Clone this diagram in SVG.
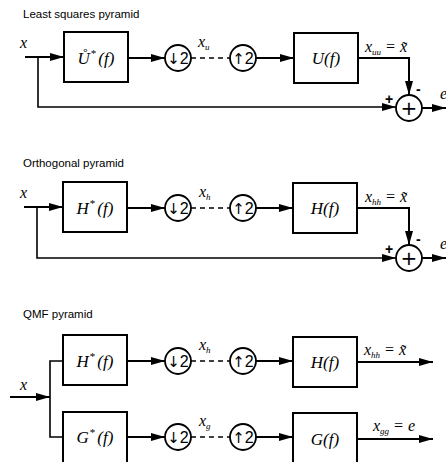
<svg xmlns="http://www.w3.org/2000/svg" width="446" height="462" viewBox="0 0 446 462">
<defs>
<marker id="ah" markerWidth="14" markerHeight="10" refX="14" refY="5" orient="auto" markerUnits="userSpaceOnUse">
<path d="M0,1 L14,5 L0,9 Z" fill="#000"/>
</marker>
<style>
.ln{stroke:#000;stroke-width:2;fill:none}
.th{stroke:#000;stroke-width:1.6;fill:none}
.dash{stroke:#000;stroke-width:1.6;fill:none;stroke-dasharray:5,4}
.box{stroke:#000;stroke-width:2;fill:#fff}
.cir{stroke:#000;stroke-width:1.8;fill:#fff}
.title{font-family:"Liberation Sans",Arial,sans-serif;font-size:11.5px;fill:#000}
.m{font-family:"Liberation Serif","Times New Roman",serif;font-style:italic;font-size:17px;fill:#000}
.ml{font-family:"Liberation Serif","Times New Roman",serif;font-style:italic;font-size:16px;fill:#000}
.sub{font-size:9px}
.sup{font-size:11px;font-style:normal}
.op{font-family:"DejaVu Sans",sans-serif;font-size:15px;fill:#000}
.two{font-family:"Liberation Sans",Arial,sans-serif;font-size:16px}
.pl{font-family:"DejaVu Sans",sans-serif;font-size:20px;fill:#000}
.sg{font-family:"Liberation Sans",Arial,sans-serif;font-size:14px;font-weight:bold;fill:#000}
</style>
</defs>

<text class="title" x="23" y="18">Least squares pyramid</text>
<text class="title" x="23" y="167">Orthogonal pyramid</text>
<text class="title" x="23" y="318">QMF pyramid</text>

<g id="connectors">
<line class="ln" x1="25" y1="57" x2="64" y2="57" marker-end="url(#ah)"/>
<polyline class="th" points="38,57 38,107 396,107" marker-end="url(#ah)"/>
<line class="ln" x1="128" y1="58" x2="165" y2="58" marker-end="url(#ah)"/>
<line class="dash" x1="191" y1="58" x2="230" y2="58"/>
<line class="ln" x1="256" y1="58" x2="294" y2="58" marker-end="url(#ah)"/>
<polyline class="ln" points="358,58 409,58 409,95" marker-end="url(#ah)"/>
<line class="ln" x1="422" y1="108" x2="446" y2="108" marker-end="url(#ah)"/>
<line class="ln" x1="24" y1="207" x2="63" y2="207" marker-end="url(#ah)"/>
<polyline class="th" points="37,207 37,258 396,258" marker-end="url(#ah)"/>
<line class="ln" x1="127" y1="208" x2="165" y2="208" marker-end="url(#ah)"/>
<line class="dash" x1="191" y1="208" x2="230" y2="208"/>
<line class="ln" x1="256" y1="208" x2="293" y2="208" marker-end="url(#ah)"/>
<polyline class="ln" points="357,208 409,208 409,245" marker-end="url(#ah)"/>
<line class="ln" x1="422" y1="258" x2="446" y2="258" marker-end="url(#ah)"/>
<line class="ln" x1="10" y1="397" x2="50" y2="397" marker-end="url(#ah)"/>
<polyline class="th" points="63,361 50,361 50,437 63,437"/>
<line class="ln" x1="127" y1="361" x2="165" y2="361" marker-end="url(#ah)"/>
<line class="dash" x1="191" y1="361" x2="230" y2="361"/>
<line class="ln" x1="256" y1="361" x2="293" y2="361" marker-end="url(#ah)"/>
<line class="ln" x1="357" y1="362" x2="433" y2="362" marker-end="url(#ah)"/>
<line class="ln" x1="127" y1="437" x2="165" y2="437" marker-end="url(#ah)"/>
<line class="dash" x1="191" y1="437" x2="230" y2="437"/>
<line class="ln" x1="256" y1="437" x2="293" y2="437" marker-end="url(#ah)"/>
<line class="ln" x1="357" y1="439" x2="433" y2="439" marker-end="url(#ah)"/>
</g>

<g id="s1-input"><text class="ml" x="20" y="48">x</text></g>
<g id="s1-analysis"><rect class="box" x="64" y="32" width="64" height="50"/><text class="m" x="96" y="64" text-anchor="middle">Ů<tspan class="sup" dy="-7" dx="1">*</tspan><tspan dy="7" dx="2">(</tspan>f<tspan>)</tspan></text></g>
<g id="s1-down"><circle class="cir" cx="178" cy="58" r="13"/><text class="op" x="178" y="64" text-anchor="middle">↓<tspan class="two">2</tspan></text></g>
<g id="s1-xu"><text class="ml" x="198" y="47">x<tspan class="sub" dy="3">u</tspan></text></g>
<g id="s1-up"><circle class="cir" cx="243" cy="58" r="13"/><text class="op" x="243" y="64" text-anchor="middle">↑<tspan class="two">2</tspan></text></g>
<g id="s1-synthesis"><rect class="box" x="294" y="33" width="64" height="50"/><text class="m" x="326" y="64" text-anchor="middle">U(f)</text></g>
<g id="s1-xuu"><text class="ml" x="365" y="52">x<tspan class="sub" dy="3">uu</tspan><tspan dy="-3"> = x̃</tspan></text></g>
<g id="s1-sum"><circle class="cir" cx="409" cy="108" r="13"/><text class="pl" x="409" y="115" text-anchor="middle">+</text><text class="sg" x="385" y="104">+</text><text class="sg" x="416" y="94">-</text></g>
<g id="s1-e"><text class="ml" x="440" y="99">e</text></g>

<g id="s2-input"><text class="ml" x="20" y="198">x</text></g>
<g id="s2-analysis"><rect class="box" x="63" y="182" width="64" height="50"/><text class="m" x="95" y="214" text-anchor="middle">H<tspan class="sup" dy="-7" dx="1">*</tspan><tspan dy="7" dx="2">(</tspan>f<tspan>)</tspan></text></g>
<g id="s2-down"><circle class="cir" cx="178" cy="208" r="13"/><text class="op" x="178" y="214" text-anchor="middle">↓<tspan class="two">2</tspan></text></g>
<g id="s2-xh"><text class="ml" x="199" y="197">x<tspan class="sub" dy="3">h</tspan></text></g>
<g id="s2-up"><circle class="cir" cx="243" cy="208" r="13"/><text class="op" x="243" y="214" text-anchor="middle">↑<tspan class="two">2</tspan></text></g>
<g id="s2-synthesis"><rect class="box" x="293" y="183" width="64" height="50"/><text class="m" x="325" y="214" text-anchor="middle">H(f)</text></g>
<g id="s2-xhh"><text class="ml" x="365" y="202">x<tspan class="sub" dy="3">hh</tspan><tspan dy="-3"> = x̃</tspan></text></g>
<g id="s2-sum"><circle class="cir" cx="409" cy="258" r="13"/><text class="pl" x="409" y="265" text-anchor="middle">+</text><text class="sg" x="385" y="254">+</text><text class="sg" x="416" y="244">-</text></g>
<g id="s2-e"><text class="ml" x="440" y="249">e</text></g>

<g id="s3-input"><text class="ml" x="20" y="390">x</text></g>
<g id="s3-h-analysis"><rect class="box" x="63" y="335" width="64" height="50"/><text class="m" x="95" y="367" text-anchor="middle">H<tspan class="sup" dy="-7" dx="1">*</tspan><tspan dy="7" dx="2">(</tspan>f<tspan>)</tspan></text></g>
<g id="s3-h-down"><circle class="cir" cx="178" cy="361" r="13"/><text class="op" x="178" y="367" text-anchor="middle">↓<tspan class="two">2</tspan></text></g>
<g id="s3-xh"><text class="ml" x="199" y="350">x<tspan class="sub" dy="3">h</tspan></text></g>
<g id="s3-h-up"><circle class="cir" cx="243" cy="361" r="13"/><text class="op" x="243" y="367" text-anchor="middle">↑<tspan class="two">2</tspan></text></g>
<g id="s3-h-synthesis"><rect class="box" x="293" y="337" width="64" height="50"/><text class="m" x="325" y="368" text-anchor="middle">H(f)</text></g>
<g id="s3-xhh"><text class="ml" x="364" y="355">x<tspan class="sub" dy="3">hh</tspan><tspan dy="-3"> = x̃</tspan></text></g>
<g id="s3-g-analysis"><rect class="box" x="63" y="412" width="64" height="56"/><text class="m" x="95" y="443" text-anchor="middle">G<tspan class="sup" dy="-7" dx="1">*</tspan><tspan dy="7" dx="2">(</tspan>f<tspan>)</tspan></text></g>
<g id="s3-g-down"><circle class="cir" cx="178" cy="437" r="13"/><text class="op" x="178" y="443" text-anchor="middle">↓<tspan class="two">2</tspan></text></g>
<g id="s3-xg"><text class="ml" x="199" y="426">x<tspan class="sub" dy="3">g</tspan></text></g>
<g id="s3-g-up"><circle class="cir" cx="243" cy="437" r="13"/><text class="op" x="243" y="443" text-anchor="middle">↑<tspan class="two">2</tspan></text></g>
<g id="s3-g-synthesis"><rect class="box" x="293" y="413" width="64" height="56"/><text class="m" x="325" y="445" text-anchor="middle">G(f)</text></g>
<g id="s3-xgg"><text class="ml" x="373" y="431">x<tspan class="sub" dy="3">gg</tspan><tspan dy="-3"> = e</tspan></text></g>
</svg>
